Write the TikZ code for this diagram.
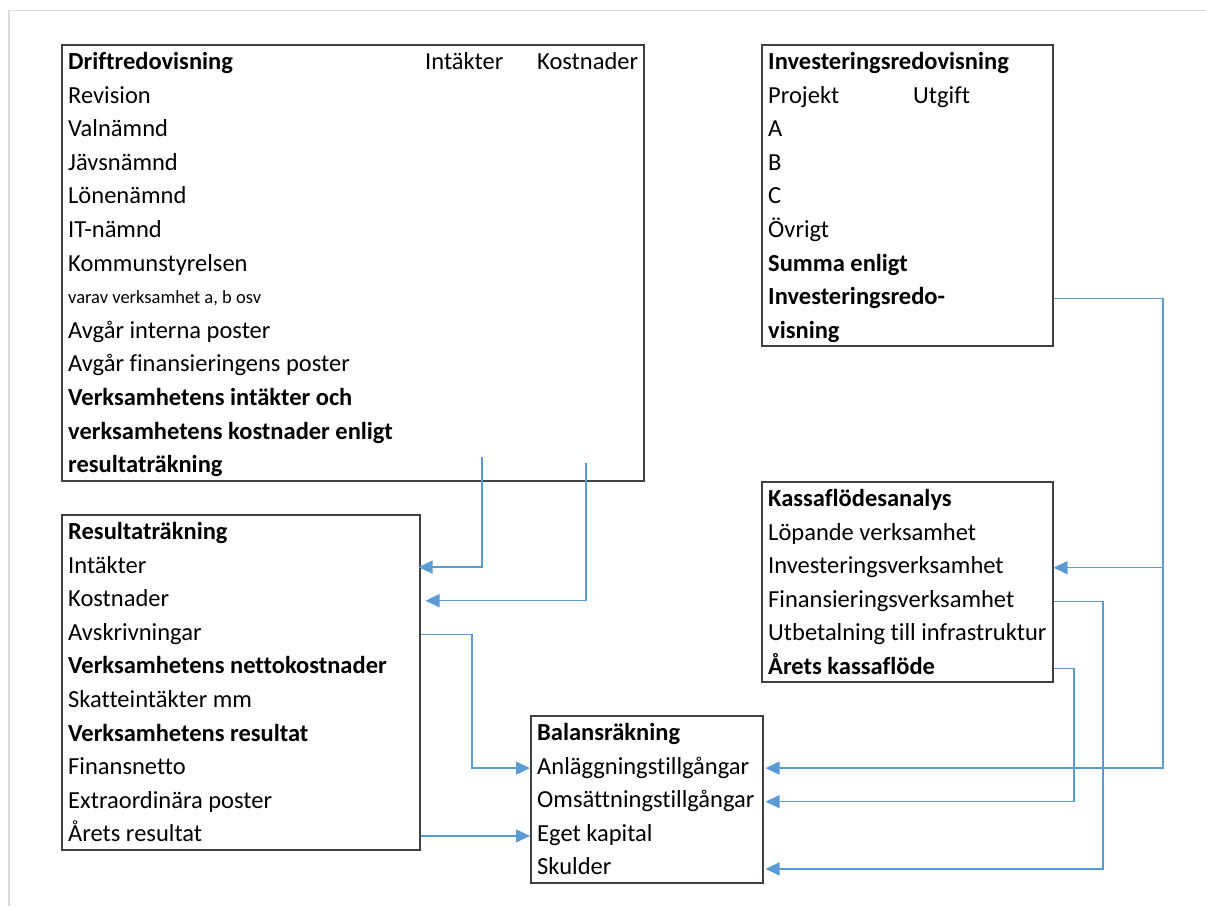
\documentclass[tikz,border=0pt]{standalone}
\usepackage{fontspec}
\setmainfont{Carlito}[Ligatures=NoCommon]
\usetikzlibrary{arrows.meta}
\definecolor{conncol}{HTML}{5B9BD5}
\definecolor{boxcol}{HTML}{404040}
\definecolor{framecol}{HTML}{DADADA}
\tikzset{
  box/.style={draw=boxcol, line width=1.5pt, anchor=north west, inner sep=0pt},
  txt/.style={anchor=base west, inner sep=0pt, text height=17pt, text depth=5pt, font=\fontsize{24.5pt}{28pt}\selectfont},
  btxt/.style={txt, font=\fontsize{24.5pt}{28pt}\selectfont\bfseries},
  stxt/.style={anchor=base west, inner sep=0pt, font=\fontsize{18.5pt}{22pt}\selectfont},
  conn/.style={draw=conncol, line width=1.4pt, -{Triangle[length=14pt,width=13pt]}},
}
\begin{document}
\begin{tikzpicture}[x=1pt,y=-1pt]
\useasboundingbox (0,0) rectangle (1206,906);
\draw[framecol, line width=1.5pt] (9,906) -- (9,10.5) -- (1206,10.5);

% Boxes
\node[box, minimum width=582pt, minimum height=436pt] (dbox) at (61,44) {};
\node[box, minimum width=291pt, minimum height=301pt] (ibox) at (761,44) {};
\node[box, minimum width=358pt, minimum height=335pt] (rbox) at (61,514) {};
\node[box, minimum width=291pt, minimum height=200pt] (kbox) at (761,481) {};
\node[box, minimum width=232pt, minimum height=167pt] (bbox) at (530,715) {};

% Driftredovisning
\node[btxt] (d1) at (68,69.5) {Driftredovisning};
\node[txt] (dint) at (425,69.5) {Intäkter};
\node[txt] (dkost) at (537,69.5) {Kostnader};
\node[txt] (d2) at (68,103.1) {Revision};
\node[txt] (d3) at (68,136.7) {Valnämnd};
\node[txt] (d4) at (68,170.3) {Jävsnämnd};
\node[txt] (d5) at (68,203.9) {Lönenämnd};
\node[txt] (d6) at (68,237.5) {IT-nämnd};
\node[txt] (d7) at (68,271.1) {Kommunstyrelsen};
\node[stxt] (d8) at (68,303.7) {varav verksamhet a, b osv};
\node[txt] (d9) at (68,338.3) {Avgår interna poster};
\node[txt] (d10) at (68,371.9) {Avgår finansieringens poster};
\node[btxt] (d11) at (68,405.5) {Verksamhetens intäkter och};
\node[btxt] (d12) at (68,439.1) {verksamhetens kostnader enligt};
\node[btxt] (d13) at (68,472.7) {resultaträkning};

% Investeringsredovisning
\node[btxt] (i1) at (768,69.5) {Investeringsredovisning};
\node[txt] (i2) at (768,103.1) {Projekt};
\node[txt] (iutg) at (913,103.1) {Utgift};
\node[txt] (i3) at (768,136.7) {A};
\node[txt] (i4) at (768,170.3) {B};
\node[txt] (i5) at (768,203.9) {C};
\node[txt] (i6) at (768,237.5) {Övrigt};
\node[btxt] (i7) at (768,271.1) {Summa enligt};
\node[btxt] (i8) at (768,304.7) {Investeringsredo-};
\node[btxt] (i9) at (768,338.3) {visning};

% Resultaträkning
\node[btxt] (r0) at (68,539.5) {Resultaträkning};
\node[txt] (r1) at (68,573.1) {Intäkter};
\node[txt] (r2) at (68,606.7) {Kostnader};
\node[txt] (r3) at (68,640.3) {Avskrivningar};
\node[btxt] (r4) at (68,673.9) {Verksamhetens nettokostnader};
\node[txt] (r5) at (68,707.5) {Skatteintäkter mm};
\node[btxt] (r6) at (68,741.1) {Verksamhetens resultat};
\node[txt] (r7) at (68,774.7) {Finansnetto};
\node[txt] (r8) at (68,808.3) {Extraordinära poster};
\node[txt] (r9) at (68,841.9) {Årets resultat};

% Kassaflödesanalys
\node[btxt] (k0) at (768,506.5) {Kassaflödesanalys};
\node[txt] (k1) at (768,540.1) {Löpande verksamhet};
\node[txt] (k2) at (768,573.7) {Investeringsverksamhet};
\node[txt] (k3) at (768,607.3) {Finansieringsverksamhet};
\node[txt] (k4) at (768,640.9) {Utbetalning till infrastruktur};
\node[btxt] (k5) at (768,674.5) {Årets kassaflöde};

% Balansräkning
\node[btxt] (b0) at (537,740.5) {Balansräkning};
\node[txt] (b1) at (537,774.1) {Anläggningstillgångar};
\node[txt] (b2) at (537,807.7) {Omsättningstillgångar};
\node[txt] (b3) at (537,841.3) {Eget kapital};
\node[txt] (b4) at (537,874.9) {Skulder};

% Connector helper coordinates
\coordinate (c1) at (482,457);
\coordinate (c2) at (586,463);
\coordinate (c3) at (472,700);
\coordinate (c5) at (1163,700);
\coordinate (c6) at (1103,700);
\coordinate (c7) at (1074,730);

% Connectors
\draw[conn] (c1) |- ([xshift=-2pt]rbox.east |- r1.west);
\draw[conn] (c2) |- ([xshift=5pt]rbox.east |- r2.west);
\draw[conn] (rbox.east |- r3.west) -| (c3) |- (bbox.west |- b1.west);
\draw[conn] (rbox.east |- r9.west) -- (bbox.west |- r9.west);
\draw[conn] (ibox.east |- i8.west) -| (c5) |- ([xshift=2pt]bbox.east |- b1.west);
\draw[conn] (c5 |- k2.west) -- (kbox.east |- k2.west);
\draw[conn] (kbox.east |- k3.west) -| (c6) |- ([xshift=2pt]bbox.east |- b4.west);
\draw[conn] (kbox.east |- k5.west) -| (c7) |- ([xshift=2pt]bbox.east |- b2.west);
\end{tikzpicture}
\end{document}
